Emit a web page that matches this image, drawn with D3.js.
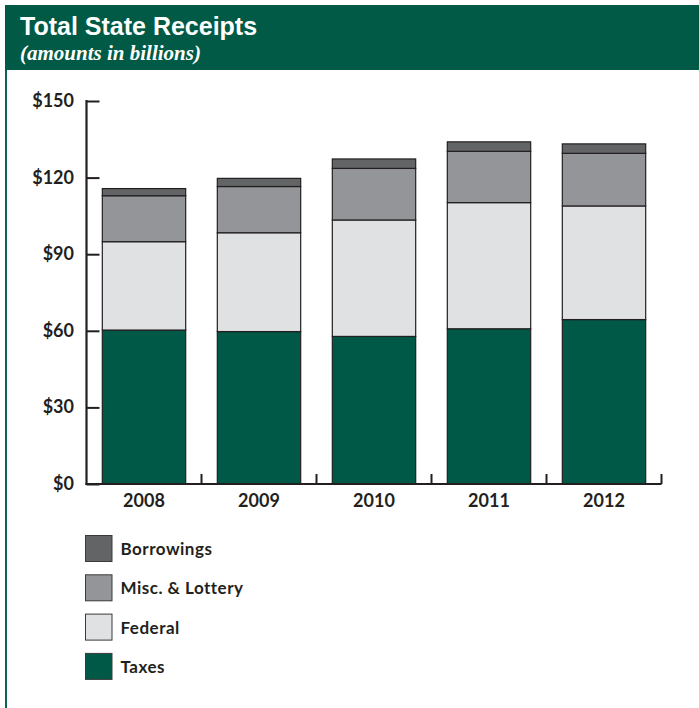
<!DOCTYPE html>
<html>
<head>
<meta charset="utf-8">
<script src="https://cdn.jsdelivr.net/npm/d3@7"></script>
<style>
  html, body { margin: 0; padding: 0; background: #ffffff; }
  svg { display: block; }
</style>
</head>
<body>
<div id="chart"></div>
<script>
// Total State Receipts, billions of dollars, by fiscal year
const years = ["2008", "2009", "2010", "2011", "2012"];
const taxes = [60.3, 59.7, 57.8, 60.8, 64.4];
const federal = [34.6, 38.7, 45.6, 49.4, 44.5];
const miscLottery = [18.0, 18.1, 20.2, 20.1, 20.6];
const borrowings = [2.8, 3.2, 3.7, 3.7, 3.7];
const yTicks = [0, 30, 60, 90, 120, 150];

const seriesKeys = ["Taxes", "Federal", "Misc. & Lottery", "Borrowings"];
const seriesColors = {
  "Taxes": "#005846",
  "Federal": "#e0e1e3",
  "Misc. & Lottery": "#939598",
  "Borrowings": "#636466"
};
const legendOrder = ["Borrowings", "Misc. & Lottery", "Federal", "Taxes"];

const rows = years.map((y, i) => ({
  year: y,
  "Taxes": taxes[i],
  "Federal": federal[i],
  "Misc. & Lottery": miscLottery[i],
  "Borrowings": borrowings[i]
}));

const W = 699, H = 708;
const green = "#005a46";
const ink = "#231f20";
const labelFont = "Lato, 'Open Sans', sans-serif";

const svg = d3.select("#chart").append("svg")
  .attr("width", W).attr("height", H);

// header band and left rule
svg.append("rect").attr("x", 5).attr("y", 5).attr("width", W - 5).attr("height", 65)
  .attr("fill", green);
svg.append("rect").attr("x", 5).attr("y", 70).attr("width", 2).attr("height", H - 70)
  .attr("fill", "#0b6450");

svg.append("text")
  .attr("x", 20).attr("y", 35)
  .attr("fill", "#ffffff")
  .attr("font-family", "'Liberation Sans', Arial, sans-serif")
  .attr("font-weight", "bold")
  .attr("font-size", "25px")
  .text("Total State Receipts");

svg.append("text")
  .attr("x", 20).attr("y", 60)
  .attr("fill", "#ffffff")
  .attr("font-family", "'Liberation Serif', 'Times New Roman', serif")
  .attr("font-style", "italic")
  .attr("font-weight", "bold")
  .attr("font-size", "21px")
  .text("(amounts in billions)");

// scales
const x = d3.scaleBand().domain(years).range([86.5, 661.5])
  .paddingInner(0.275).paddingOuter(0.1375);
const y = d3.scaleLinear().domain([0, 150]).range([484, 101]);

const stack = d3.stack().keys(seriesKeys);
const layers = stack(rows);

const g = svg.append("g");
layers.forEach(layer => {
  g.append("g")
    .attr("fill", seriesColors[layer.key])
    .selectAll("rect")
    .data(layer)
    .join("rect")
    .attr("x", d => x(d.data.year))
    .attr("width", x.bandwidth())
    .attr("y", d => y(d[1]))
    .attr("height", d => y(d[0]) - y(d[1]))
    .attr("stroke", ink)
    .attr("stroke-width", 1.2);
});

// y axis: ticks point inward
const yAxis = svg.append("g")
  .attr("transform", `translate(${x.range()[0]},0)`)
  .call(d3.axisRight(y).tickValues(yTicks).tickSize(13).tickFormat(() => ""));
yAxis.select(".domain").remove();
yAxis.selectAll(".tick line").attr("stroke", ink).attr("stroke-width", 2);
yAxis.append("line")
  .attr("x1", 0).attr("x2", 0).attr("y1", y(150) - 1).attr("y2", y(0) + 1)
  .attr("stroke", ink).attr("stroke-width", 2.2);

svg.append("g").selectAll("text")
  .data(yTicks)
  .join("text")
  .attr("x", 74)
  .attr("y", d => y(d) + 6)
  .attr("text-anchor", "end")
  .attr("fill", ink)
  .attr("font-family", labelFont)
  .attr("font-weight", "bold")
  .attr("font-size", "18px")
  .text(d => "$" + d);

// x axis: baseline with upward separators between bars
const sepPositions = years.map(yr => x(yr) + x.bandwidth() + x.step() * x.paddingInner() / 2);
svg.append("line")
  .attr("x1", x.range()[0] - 1).attr("x2", x.range()[1])
  .attr("y1", y(0)).attr("y2", y(0))
  .attr("stroke", ink).attr("stroke-width", 2.2);
svg.append("g").selectAll("line")
  .data(sepPositions)
  .join("line")
  .attr("x1", d => d).attr("x2", d => d)
  .attr("y1", y(0)).attr("y2", y(0) - 10)
  .attr("stroke", ink).attr("stroke-width", 2);

svg.append("g").selectAll("text")
  .data(years)
  .join("text")
  .attr("x", d => x(d) + x.bandwidth() / 2)
  .attr("y", 507)
  .attr("text-anchor", "middle")
  .attr("fill", ink)
  .attr("font-family", labelFont)
  .attr("font-weight", "bold")
  .attr("font-size", "18px")
  .text(d => d);

// legend
const legend = svg.append("g").selectAll("g")
  .data(legendOrder)
  .join("g")
  .attr("transform", (d, i) => `translate(85.5,${535.5 + i * 39.3})`);
legend.append("rect")
  .attr("width", 26.5).attr("height", 26)
  .attr("fill", d => seriesColors[d])
  .attr("stroke", "#3a3a3a").attr("stroke-width", 1);
legend.append("text")
  .attr("x", 35).attr("y", 19.5)
  .attr("fill", ink)
  .attr("font-family", labelFont)
  .attr("font-weight", "bold")
  .attr("font-size", "17px")
  .attr("letter-spacing", "0.5px")
  .text(d => d);
</script>
</body>
</html>
